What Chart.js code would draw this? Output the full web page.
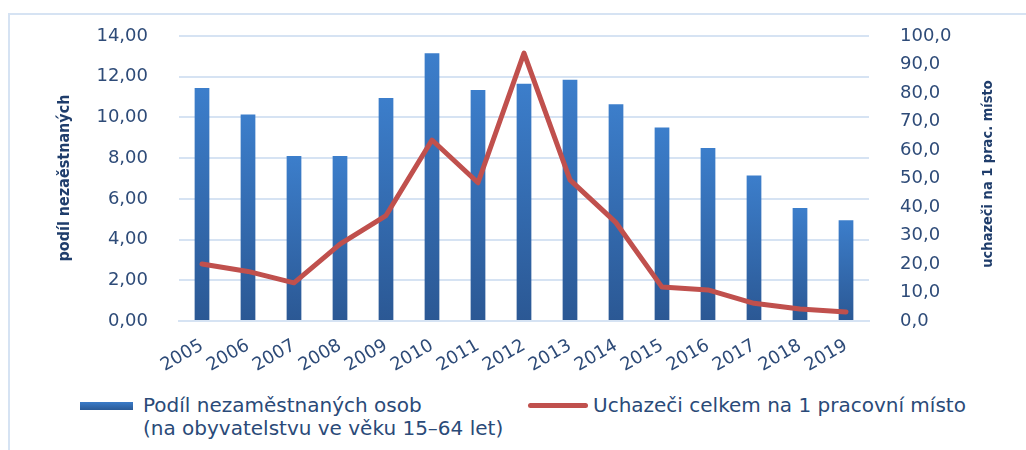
<!DOCTYPE html>
<html><head><meta charset="utf-8">
<script src="https://cdn.jsdelivr.net/npm/chart.js@4.4.1/dist/chart.umd.min.js"></script>
<style>
html,body{margin:0;padding:0;background:#fff;}
#wrap{position:relative;width:1026px;height:450px;overflow:hidden;background:#fff;}
#frame{position:absolute;left:8px;top:13px;width:1040px;height:470px;border:2px solid #D6E3F3;box-sizing:border-box;}
#c{position:absolute;left:0;top:0;}
.leg{position:absolute;font-family:'DejaVu Sans',sans-serif;font-size:20px;color:#2A4A78;line-height:23px;white-space:nowrap;}
.sw1{position:absolute;left:80px;top:402px;width:53px;height:8px;background:linear-gradient(#3A7BC8,#2B5A96);}
.sw2{position:absolute;left:528px;top:403px;width:60px;height:5px;border-radius:3px;background:#C0504D;}
</style></head>
<body>
<div id="wrap">
<div id="frame"></div>
<canvas id="c" width="1026" height="390"></canvas>
<div class="sw1"></div>
<div class="leg" id="l1" style="left:143px;top:394px;">Podíl nezaměstnaných osob<br>(na obyvatelstvu ve věku 15–64 let)</div>
<div class="sw2"></div>
<div class="leg" id="l2" style="left:593px;top:394px;">Uchazeči celkem na 1 pracovní místo</div>
</div>
<script>
const years = ['2005','2006','2007','2008','2009','2010','2011','2012','2013','2014','2015','2016','2017','2018','2019'];
const unemployedShare = [11.45, 10.15, 8.1, 8.1, 10.95, 13.15, 11.35, 11.65, 11.85, 10.65, 9.5, 8.5, 7.15, 5.55, 4.95];
const applicantsPerJob = [20.0, 17.4, 13.4, 27.0, 37.0, 63.5, 48.5, 94.0, 49.5, 34.5, 11.9, 10.9, 6.2, 4.2, 3.2];
const leftTicks = [0, 2, 4, 6, 8, 10, 12, 14];
const rightTicks = [0, 10, 20, 30, 40, 50, 60, 70, 80, 90, 100];
const barLabel = 'Podíl nezaměstnaných osob (na obyvatelstvu ve věku 15–64 let)';
const lineLabel = 'Uchazeči celkem na 1 pracovní místo';
const leftTitle = 'podíl nezaěstnaných';
const rightTitle = 'uchazeči na 1 prac. místo';

const tickColor = '#2E4B78';
const titleColor = '#1F3D6B';
const gridColor = '#D6E3F3';

const titlesPlugin = {
  id: 'titles',
  afterDraw(chart) {
    const ctx = chart.ctx;
    ctx.save();
    ctx.fillStyle = titleColor;
    ctx.font = 'bold 16px "DejaVu Sans Condensed", "DejaVu Sans", sans-serif';
    ctx.textAlign = 'center';
    ctx.textBaseline = 'middle';
    ctx.translate(65, 178);
    ctx.rotate(-Math.PI / 2);
    ctx.fillText(leftTitle, 0, 0);
    ctx.restore();
    ctx.save();
    ctx.fillStyle = titleColor;
    ctx.font = 'bold 14.5px "DejaVu Sans Condensed", "DejaVu Sans", sans-serif';
    ctx.textAlign = 'center';
    ctx.textBaseline = 'middle';
    ctx.translate(988, 174);
    ctx.rotate(-Math.PI / 2);
    ctx.fillText(rightTitle, 0, 0);
    ctx.restore();
  }
};

function barGradient(context) {
  const chart = context.chart;
  if (!chart.chartArea || context.parsed === undefined) return '#3878C4';
  const y = chart.scales.y;
  const top = y.getPixelForValue(context.parsed.y);
  const bottom = y.getPixelForValue(0);
  const g = chart.ctx.createLinearGradient(0, top, 0, bottom);
  g.addColorStop(0, '#3C7ECB');
  g.addColorStop(1, '#2B5894');
  return g;
}

function fixVertical(width) {
  return function (s) { s.width = width; s.paddingTop = 0; s.paddingBottom = 0; };
}

new Chart(document.getElementById('c'), {
  data: {
    labels: years,
    datasets: [
      {
        type: 'line', label: lineLabel, data: applicantsPerJob, yAxisID: 'y1', order: 0,
        borderColor: '#C0504D', borderWidth: 5, pointRadius: 0, tension: 0,
        borderJoinStyle: 'round', borderCapStyle: 'round', fill: false
      },
      {
        type: 'bar', label: barLabel, data: unemployedShare, yAxisID: 'y', order: 1,
        backgroundColor: barGradient, barPercentage: 0.32, categoryPercentage: 1
      }
    ]
  },
  options: {
    responsive: false,
    animation: false,
    layout: { padding: { top: 36, left: 0, right: 0, bottom: 0 } },
    plugins: { legend: { display: false }, tooltip: { enabled: false } },
    scales: {
      x: {
        grid: { display: false, drawTicks: false },
        border: { display: true, color: gridColor, width: 2 },
        ticks: {
          color: tickColor, font: { family: 'DejaVu Sans', size: 18 },
          minRotation: 30, maxRotation: 30, padding: 14, autoSkip: false
        },
        afterFit(s) { s.height = 390 - 321; }
      },
      y: {
        position: 'left', min: 0, max: 14,
        afterBuildTicks(s) { s.ticks = leftTicks.map(v => ({ value: v })); },
        grid: { color: gridColor, lineWidth: 2, drawTicks: false },
        border: { display: false },
        ticks: {
          color: tickColor, font: { family: 'DejaVu Sans', size: 18 }, padding: 31,
          callback: v => v.toFixed(2).replace('.', ',')
        },
        afterFit: fixVertical(179)
      },
      y1: {
        position: 'right', min: 0, max: 100,
        afterBuildTicks(s) { s.ticks = rightTicks.map(v => ({ value: v })); },
        grid: { display: false, drawTicks: false },
        border: { display: false },
        ticks: {
          color: tickColor, font: { family: 'DejaVu Sans', size: 18 }, padding: 31,
          callback: v => v.toFixed(1).replace('.', ',')
        },
        afterFit: fixVertical(1026 - 869)
      }
    }
  },
  plugins: [titlesPlugin]
});
</script>
</body></html>
